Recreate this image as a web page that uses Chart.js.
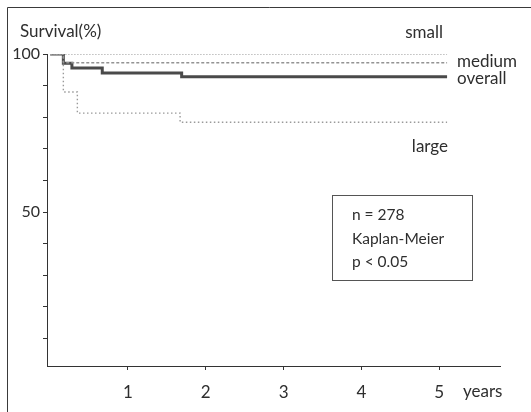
<!DOCTYPE html>
<html>
<head>
<meta charset="utf-8">
<script src="https://cdn.jsdelivr.net/npm/chart.js@4/dist/chart.umd.min.js"></script>
<style>
  html, body { margin: 0; padding: 0; background: #fff; }
  #wrap { width: 531px; height: 412px; position: relative; }
</style>
</head>
<body>
<div id="wrap"><canvas id="c" width="531" height="412"></canvas></div>
<script>
// ---- data ----
const xTicks = [1, 2, 3, 4, 5];
const yTicks = [10, 20, 30, 40, 50, 60, 70, 80, 90, 100];
const yLabelled = [50, 100];

const smallTimes   = [0, 5.1];
const smallSurv    = [100, 100];

const mediumTimes  = [0, 0.17, 5.1];
const mediumSurv   = [100, 97.2, 97.2];

const overallTimes = [0, 0.17, 0.28, 0.67, 1.69, 5.1];
const overallSurv  = [100, 97.1, 95.6, 94.0, 92.8, 92.8];

const largeTimes   = [0, 0.17, 0.35, 1.67, 5.1];
const largeSurv    = [100, 88.0, 81.3, 78.4, 78.4];

const seriesNames  = ['small', 'medium', 'overall', 'large'];
const infoLines    = ['n = 278', 'Kaplan-Meier', 'p < 0.05'];

function pts(t, s) { return t.map((x, i) => ({ x: x, y: s[i] })); }

const FONT = 'Lato, "Open Sans", sans-serif';
const INK = '#2e2e2e';

const annot = {
  id: 'annot',
  afterDraw(chart) {
    const ctx = chart.ctx;
    ctx.save();
    // scan frame (top and left edges)
    ctx.strokeStyle = '#3a3a3a';
    ctx.lineWidth = 1;
    ctx.beginPath();
    ctx.moveTo(7.5, 412); ctx.lineTo(7.5, 7.5); ctx.lineTo(531, 7.5);
    ctx.stroke();

    ctx.fillStyle = INK;
    ctx.textBaseline = 'middle';
    ctx.font = '17px ' + FONT;
    ctx.textAlign = 'left';
    ctx.fillText('Survival(%)', 20, 32);
    // curve labels
    ctx.textAlign = 'right';
    ctx.fillText(seriesNames[0], 443, 33);
    ctx.fillText(seriesNames[3], 448, 147);
    ctx.textAlign = 'left';
    ctx.fillText(seriesNames[1], 457, 62);
    ctx.fillText(seriesNames[2], 457, 79);
    // axis unit
    ctx.fillText('years', 463, 392);

    // info box
    ctx.strokeStyle = '#555';
    ctx.strokeRect(332.5, 195.5, 140, 85);
    ctx.font = '15.5px ' + FONT;
    ctx.fillText(infoLines[0], 352, 215);
    ctx.fillText(infoLines[1], 352, 239);
    ctx.fillText(infoLines[2], 352, 262);
    ctx.restore();
  }
};

new Chart(document.getElementById('c'), {
  type: 'line',
  data: {
    datasets: [
      { label: 'small', data: pts(smallTimes, smallSurv), borderColor: '#a8a8a8', borderWidth: 1.5, borderDash: [1.5, 1.5] },
      { label: 'medium', data: pts(mediumTimes, mediumSurv), borderColor: '#939393', borderWidth: 1.5, borderDash: [3, 2] },
      { label: 'large', data: pts(largeTimes, largeSurv), borderColor: '#9a9a9a', borderWidth: 1.4, borderDash: [1.5, 2.5] },
      { label: 'overall', data: pts(overallTimes, overallSurv), borderColor: '#4a4a4a', borderWidth: 3 }
    ]
  },
  options: {
    responsive: false,
    animation: false,
    events: [],
    layout: { padding: { left: 0, right: 31, top: 54, bottom: 0 } },
    elements: {
      line: { stepped: 'before', tension: 0, fill: false },
      point: { radius: 0 }
    },
    plugins: { legend: { display: false }, tooltip: { enabled: false }, title: { display: false } },
    scales: {
      x: {
        type: 'linear',
        min: -0.04, max: 5.78,
        afterBuildTicks: (s) => { s.ticks = xTicks.map(v => ({ value: v })); },
        afterFit: (s) => { s.height = 46; },
        border: { display: true, color: '#333', width: 1 },
        grid: { display: true, drawOnChartArea: false, drawTicks: true, tickLength: 4, color: '#333' },
        ticks: { color: INK, font: { family: FONT, size: 17 }, padding: 12, maxRotation: 0 }
      },
      y: {
        type: 'linear',
        min: 1.3, max: 100,
        afterBuildTicks: (s) => { s.ticks = yTicks.map(v => ({ value: v })); },
        afterFit: (s) => { s.width = 47; },
        border: { display: true, color: '#333', width: 1 },
        grid: { display: true, drawOnChartArea: false, drawTicks: true, tickLength: 4, color: '#333' },
        ticks: {
          color: INK, font: { family: FONT, size: 16 }, padding: 3,
          callback: (v) => yLabelled.includes(v) ? String(v) : ''
        }
      }
    }
  },
  plugins: [annot]
});
</script>
</body>
</html>
